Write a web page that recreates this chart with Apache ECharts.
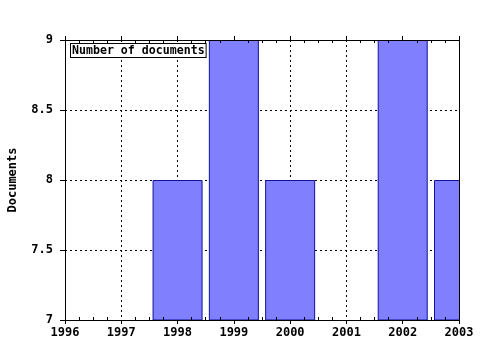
<!DOCTYPE html>
<html><head><meta charset="utf-8">
<script src="https://cdn.jsdelivr.net/npm/echarts@6/dist/echarts.min.js"></script>
<style>html,body{margin:0;padding:0;background:#fff}#c{width:480px;height:350px}</style>
</head><body><div id="c"></div>
<script>
var years = [1998, 1999, 2000, 2002, 2003];
var docs = [8, 9, 8, 9, 8];
var seriesName = 'Number of documents';
var yName = 'Documents';

var font = 'DejaVu Sans Mono';
var chart = echarts.init(document.getElementById('c'));
var axisLine = {show: true, lineStyle: {color: '#000', width: 1}};
var lbl = {fontFamily: font, fontWeight: 'bold', fontSize: 12, color: '#000'};
var grid = {show: true, lineStyle: {color: '#000', type: [2, 3], width: 1}};
chart.setOption({
  animation: false,
  backgroundColor: '#fff',
  grid: {left: 65, right: 21, top: 40, bottom: 30, outerBoundsMode: 'none', containLabel: false},
  legend: {
    left: 66, top: 43, data: [seriesName], icon: 'none', itemWidth: 0, itemHeight: 0,
    padding: 0, selectedMode: false, z: 20,
    textStyle: {fontFamily: font, fontWeight: 'bold', fontSize: 11.6, color: '#000',
      backgroundColor: '#fff', borderColor: '#000', borderWidth: 1, padding: [1, 1, 0, 1]}
  },
  graphic: [{type: 'rect', right: 0, top: 0, shape: {width: 20, height: 350},
    style: {fill: '#fff'}, z: 5, silent: true}],
  xAxis: [
    {type: 'value', position: 'bottom', min: 1996, max: 2003, interval: 1, z: 10,
     axisLine: axisLine, axisTick: {show: true, length: 4, lineStyle: {color: '#000'}},
     axisLabel: Object.assign({margin: 7, formatter: function (v) { return String(v); }}, lbl),
     splitLine: {show: false}},
    {type: 'value', position: 'bottom', min: 1996, max: 2003, interval: 1, z: 0,
     axisLine: {show: false}, axisTick: {show: false}, axisLabel: {show: false}, splitLine: grid},
    {type: 'value', position: 'bottom', min: 1996, max: 2003, interval: 1, z: 10,
     axisLine: {show: false}, axisTick: {show: false, inside: true},
     minorTick: {show: true, splitNumber: 4, length: 3, lineStyle: {color: '#000'}},
     axisLabel: {show: false}, splitLine: {show: false}},
    {type: 'value', position: 'top', min: 1996, max: 2003, interval: 1, z: 10,
     axisLine: axisLine, axisTick: {show: true, length: 4, lineStyle: {color: '#000'}},
     axisLabel: {show: false}, splitLine: {show: false}},
    {type: 'value', position: 'top', min: 1996, max: 2003, interval: 1, z: 10,
     axisLine: {show: false}, axisTick: {show: false, inside: true},
     minorTick: {show: true, splitNumber: 4, length: 3, lineStyle: {color: '#000'}},
     axisLabel: {show: false}, splitLine: {show: false}}
  ],
  yAxis: [
    {type: 'value', position: 'left', min: 7, max: 9, interval: 0.5, z: 0,
     name: yName, nameLocation: 'middle', nameGap: 46, nameRotate: 90,
     nameTextStyle: {fontFamily: font, fontWeight: 'bold', fontSize: 12, color: '#000'},
     axisLine: axisLine, axisTick: {show: true, length: 5, lineStyle: {color: '#000'}},
     axisLabel: Object.assign({margin: 12}, lbl),
     splitLine: grid},
    {type: 'value', position: 'right', min: 7, max: 9, interval: 0.5, z: 10,
     axisLine: axisLine, axisTick: {show: false},
     axisLabel: {show: false}, splitLine: {show: false}}
  ],
  series: [{
    name: seriesName, type: 'bar', xAxisIndex: 0, yAxisIndex: 0,
    barWidth: 50, clip: true,
    data: years.map(function (y, i) { return [y, docs[i]]; }),
    itemStyle: {color: '#8080ff', borderColor: '#10109a', borderWidth: 1},
    z: 3
  }]
});
</script></body></html>
